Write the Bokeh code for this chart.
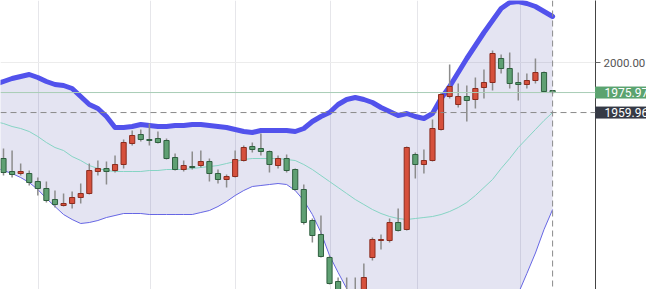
from bokeh.plotting import figure
from bokeh.models import Range1d, FixedTicker, Span, Label, NumeralTickFormatter, ColumnDataSource
from bokeh.embed import file_html
from bokeh.resources import INLINE

# ---- data ----
idx = list(range(65))
opens = [1923.2, 1912.8, 1911.2, 1911.2, 1904.8, 1899.2, 1890.4, 1885.6, 1887.2, 1892.0,
         1895.2, 1912.8, 1915.2, 1913.6, 1918.4, 1935.2, 1942.4, 1938.4, 1939.2, 1937.6,
         1924.0, 1914.4, 1916.8, 1917.6, 1920.8, 1911.2, 1906.4, 1908.8, 1921.6, 1932.8,
         1931.2, 1928.8, 1917.6, 1923.2, 1914.4, 1898.4, 1873.6, 1862.4, 1844.0, 1824.8,
         1816.0, 1810.4, 1816.0, 1844.0, 1857.6, 1857.6, 1872.0, 1866.4, 1926.4, 1918.4,
         1921.6, 1946.4, 1972.8, 1966.4, 1972.8, 1970.4, 1980.0, 1984.0, 2003.2, 1995.2,
         1984.0, 1982.4, 1985.6, 1992.0, 1977.6]
highs = [1931.2, 1929.6, 1919.2, 1913.6, 1908.0, 1904.8, 1897.6, 1895.2, 1896.8, 1903.2,
         1919.2, 1921.6, 1920.8, 1925.6, 1938.4, 1945.6, 1946.4, 1951.2, 1944.8, 1939.2,
         1927.2, 1921.6, 1928.8, 1929.6, 1923.2, 1914.4, 1910.4, 1929.6, 1933.6, 1936.0,
         1943.2, 1929.6, 1925.6, 1926.4, 1915.2, 1902.4, 1875.2, 1877.6, 1845.6, 1828.0,
         1828.0, 1828.0, 1839.2, 1860.0, 1862.4, 1875.2, 1883.2, 1932.8, 1928.0, 1930.4,
         1954.4, 1976.0, 1998.4, 1983.2, 1981.6, 1988.0, 1994.4, 2009.6, 2006.4, 2008.0,
         1992.0, 1991.2, 2003.2, 1992.8, 1977.6]
lows = [1909.6, 1908.0, 1909.6, 1901.6, 1893.6, 1888.0, 1884.0, 1884.8, 1883.2, 1887.2,
        1894.4, 1909.6, 1902.4, 1912.0, 1915.2, 1933.6, 1936.8, 1933.6, 1935.2, 1922.4,
        1913.6, 1912.8, 1914.4, 1916.0, 1904.8, 1903.2, 1900.0, 1908.0, 1920.8, 1928.0,
        1925.6, 1912.0, 1915.2, 1912.0, 1897.6, 1870.4, 1856.0, 1844.0, 1822.4, 1812.8,
        1808.0, 1807.2, 1813.6, 1841.6, 1850.4, 1856.0, 1864.8, 1865.6, 1907.2, 1911.2,
        1920.8, 1945.6, 1971.2, 1964.0, 1952.8, 1963.2, 1971.2, 1977.6, 1991.2, 1979.2,
        1969.6, 1979.2, 1983.2, 1976.8, 1975.2]
closes = [1912.0, 1910.4, 1912.8, 1904.0, 1899.2, 1889.6, 1886.4, 1887.2, 1892.0, 1895.2,
          1913.6, 1915.2, 1912.8, 1918.4, 1936.0, 1941.6, 1938.4, 1937.6, 1936.0, 1923.2,
          1914.4, 1917.6, 1916.0, 1920.8, 1911.2, 1906.4, 1908.8, 1922.4, 1932.0, 1930.4,
          1928.8, 1918.4, 1923.2, 1913.6, 1898.4, 1872.0, 1861.6, 1844.8, 1823.2, 1816.0,
          1811.2, 1812.0, 1828.0, 1858.4, 1858.4, 1872.0, 1865.6, 1932.0, 1918.4, 1921.6,
          1947.2, 1974.4, 1980.8, 1972.8, 1969.6, 1979.2, 1984.0, 2007.2, 1995.2, 1983.2,
          1982.4, 1985.6, 1992.0, 1976.8, 1975.97]

band_idx = list(range(-1, 65))
upper = [1982.4, 1984.8, 1987.2, 1988.8, 1990.4, 1988.0, 1984.8, 1982.4, 1981.6, 1979.2, 1972.8,
         1966.4, 1963.2, 1956.8, 1948.0, 1948.0, 1948.8, 1950.4, 1949.6, 1948.8, 1948.8,
         1949.6, 1949.6, 1950.4, 1950.4, 1949.6, 1948.8, 1948.0, 1946.4, 1944.8, 1944.0,
         1945.6, 1945.6, 1945.6, 1945.6, 1944.8, 1947.2, 1952.8, 1956.8, 1960.0, 1966.4,
         1970.4, 1972.0, 1970.4, 1968.0, 1964.0, 1960.8, 1957.6, 1959.2, 1956.8, 1955.2,
         1959.2, 1971.2, 1980.8, 1992.0, 2003.2, 2013.6, 2024.0, 2033.6, 2043.2, 2048.0,
         2048.8, 2047.2, 2044.8, 2040.8, 2036.8]
middle = [1952.8, 1951.2, 1948.8, 1947.2, 1944.8, 1940.8, 1936.0, 1932.0, 1929.6, 1924.8, 1921.6,
          1917.6, 1915.2, 1913.6, 1912.8, 1912.8, 1912.8, 1912.8, 1913.6, 1913.6, 1914.4,
          1914.4, 1914.4, 1915.2, 1916.0, 1916.8, 1917.6, 1919.2, 1920.8, 1922.4, 1923.2,
          1923.2, 1923.2, 1923.2, 1922.4, 1921.6, 1918.4, 1914.4, 1909.6, 1904.8, 1900.0,
          1895.2, 1890.4, 1886.4, 1882.4, 1879.2, 1876.8, 1875.2, 1874.4, 1875.2, 1876.0,
          1876.8, 1878.4, 1880.8, 1884.0, 1888.0, 1893.6, 1900.0, 1906.4, 1915.2, 1923.2,
          1932.0, 1939.2, 1946.4, 1953.6, 1959.96]
lower = [1916.0, 1913.6, 1911.2, 1908.0, 1904.0, 1898.4, 1891.2, 1884.8, 1878.4, 1874.4, 1871.2,
         1872.0, 1873.6, 1876.0, 1877.6, 1879.2, 1879.2, 1879.2, 1878.4, 1878.4, 1878.4,
         1878.4, 1878.4, 1878.4, 1880.0, 1881.6, 1884.8, 1888.8, 1893.6, 1897.6, 1900.8,
         1901.6, 1902.4, 1903.2, 1902.4, 1897.6, 1889.6, 1878.4, 1864.0, 1845.6, 1832.0,
         1819.2, 1808.8, 1802.4, 1796.8, 1794.4, 1792.8, 1792.8, 1789.6, 1793.6, 1796.8,
         1794.4, 1787.2, 1780.8, 1776.0, 1772.8, 1773.6, 1776.0, 1779.2, 1787.2, 1798.4,
         1815.2, 1831.2, 1847.6, 1866.4, 1882.4]

last_close = 1975.97
last_close_text = "1975.970"
cross_value = 1959.96
cross_text = "1959.96"
x_grid_ticks = [4.1, 17.1, 27.0, 38.1, 48.25, 60.25]
y_ticks = [2000]

# ---- styling ----
RED, RED_LINE = "#d6503c", "#8a2c1f"
GREEN, GREEN_LINE = "#5fa073", "#2f5f3f"

up = [c >= o for o, c in zip(opens, closes)]
src = ColumnDataSource(dict(
    x=idx, open=opens, close=closes, high=highs, low=lows,
    top=[max(o, c) for o, c in zip(opens, closes)],
    bottom=[min(o, c) for o, c in zip(opens, closes)],
    fill=[RED if u else GREEN for u in up],
    line=[RED_LINE if u else GREEN_LINE for u in up],
))
bands = ColumnDataSource(dict(x=band_idx, upper=upper, middle=middle, lower=lower))

xr = Range1d(-0.35, 69.0)
p = figure(frame_width=595, frame_height=289, output_backend="svg", toolbar_location=None,
           x_range=xr, y_range=Range1d(1818.4, 2049.6),
           y_axis_location="right", min_border=0)
p.outline_line_color = None
p.background_fill_color = "white"
p.border_fill_color = "white"

p.xaxis.visible = False
p.xgrid.ticker = FixedTicker(ticks=x_grid_ticks)
p.xgrid.grid_line_color = "#e6e6ea"
p.ygrid.grid_line_color = "#ececec"

ax = p.yaxis[0]
ax.ticker = FixedTicker(ticks=y_ticks)
ax.formatter = NumeralTickFormatter(format="0.00")
ax.axis_line_color = "#444444"
ax.major_tick_line_color = "#666666"
ax.major_tick_out = 5
ax.major_tick_in = 0
ax.minor_tick_line_color = None
ax.major_label_text_color = "#555555"
ax.major_label_text_font = "Roboto"
ax.major_label_text_font_size = "11.5px"
ax.major_label_standoff = 3

# band fill and lines
p.varea(x="x", y1="lower", y2="upper", source=bands, fill_color="#4b4ba8", fill_alpha=0.15)
p.line("x", "middle", source=bands, line_color="#86d4c4", line_width=1)
p.line("x", "lower", source=bands, line_color="#6666e4", line_width=1)
p.line("x", "upper", source=bands, line_color="#5252ec", line_width=5, line_join="round", line_cap="round")

# price lines / crosshair
p.add_layout(Span(location=last_close, dimension="width", line_color="#a9cdb6", line_width=1))
p.add_layout(Span(location=cross_value, dimension="width", line_color="#8a8a8a", line_width=1, line_dash="6 4"))
p.add_layout(Span(location=idx[-1], dimension="height", line_color="#8a8a8a", line_width=1, line_dash="6 4"))

# candles
p.segment(x0="x", x1="x", y0="low", y1="high", source=src, line_color="#8c8c8c", line_width=1.5)
p.vbar(x="x", width=0.6, top="top", bottom="bottom", source=src,
       fill_color="fill", line_color="line", line_width=1)

# price labels on the axis (placed in the right side panel so they are not clipped)
for val, txt, bg in [(last_close, last_close_text, "#5ba36f"), (cross_value, cross_text, "#363a45")]:
    p.add_layout(Label(x=xr.end, y=val, x_units="data", y_units="data", text=txt,
                       text_color="white", text_font="Roboto", text_font_size="12px",
                       text_baseline="middle", text_align="left",
                       background_fill_color=bg, border_line_color=bg,
                       padding=dict(left=9, right=4, top=1, bottom=1)), "right")

open("out.html", "w").write(file_html(p, INLINE))
